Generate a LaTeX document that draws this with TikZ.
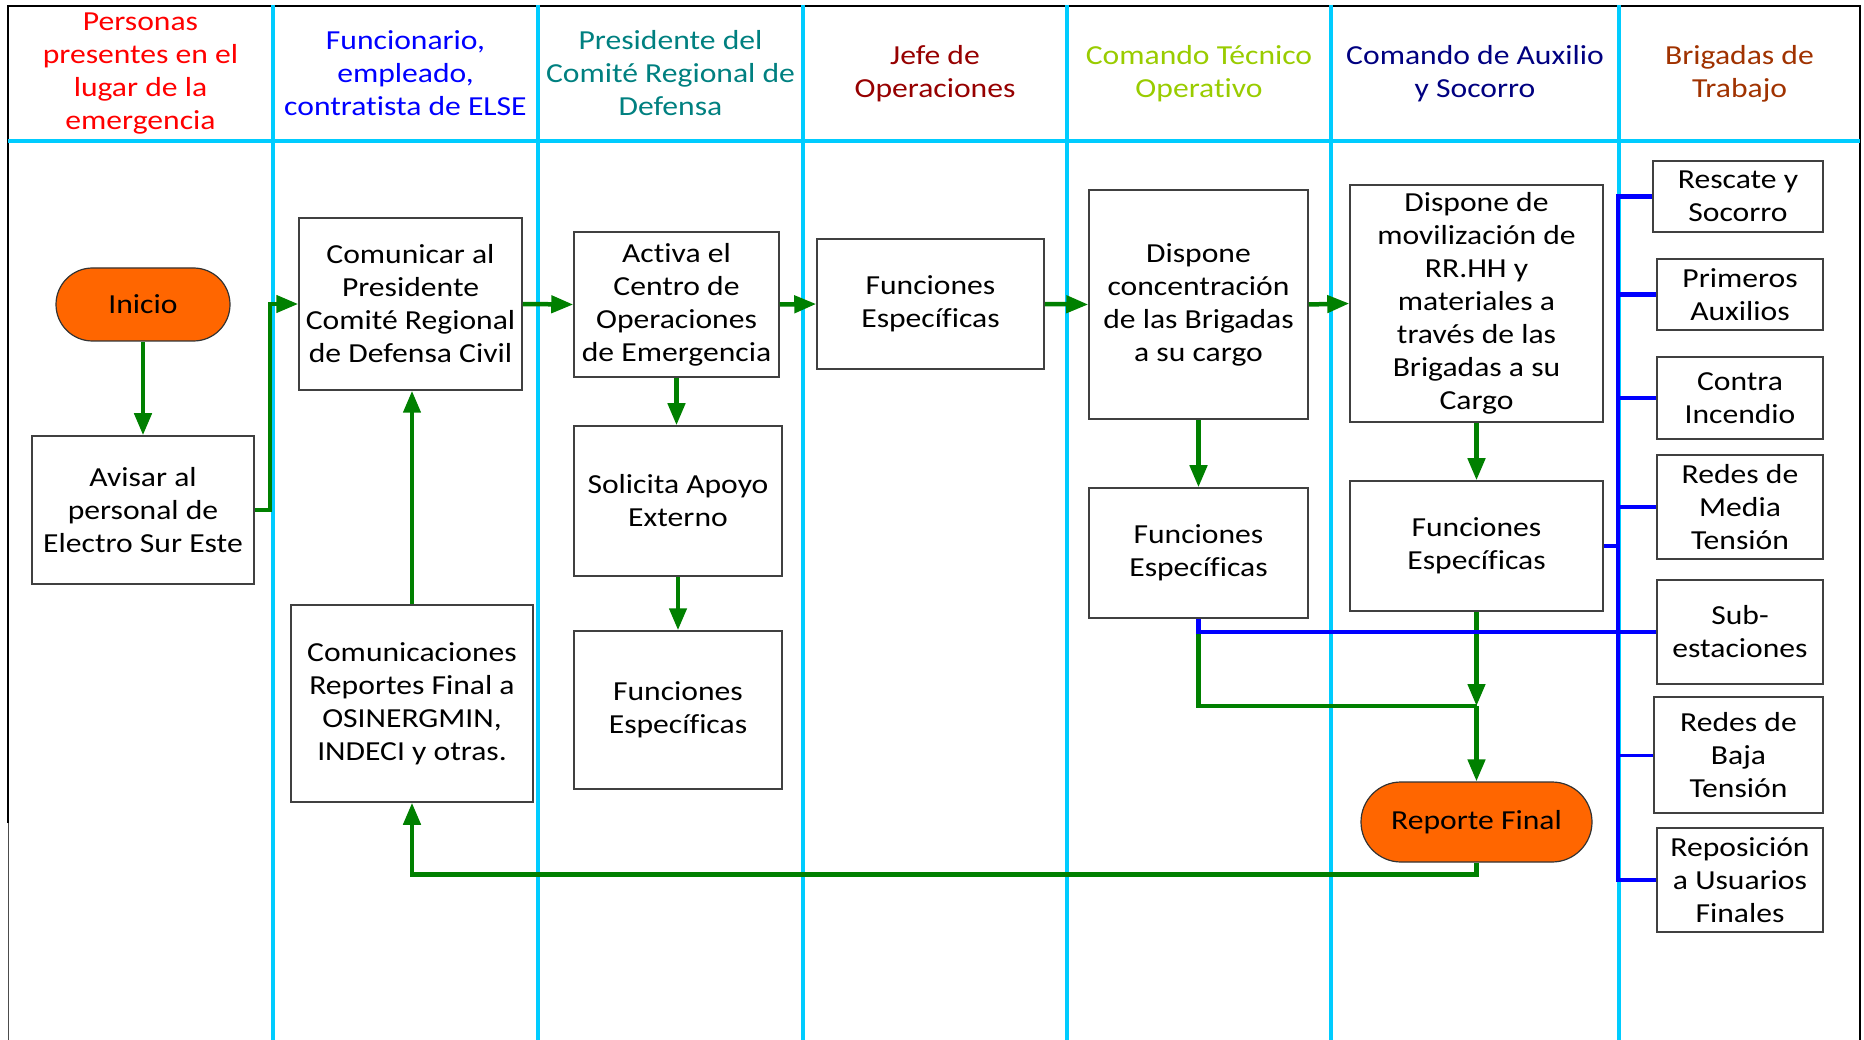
\documentclass[tikz,border=0pt]{standalone}
\usepackage{fontspec}
\setmainfont{Carlito}[FakeStretch=1.15, Ligatures=NoCommon]
\usetikzlibrary{arrows.meta,shapes.misc}

\definecolor{lanecyan}{RGB}{0,204,255}
\definecolor{flowgreen}{RGB}{0,128,0}
\definecolor{linkblue}{RGB}{0,0,255}
\definecolor{termorange}{RGB}{255,102,0}
\definecolor{hdred}{RGB}{255,0,0}
\definecolor{hdblue}{RGB}{0,0,255}
\definecolor{hdteal}{RGB}{0,128,128}
\definecolor{hdmaroon}{RGB}{150,0,0}
\definecolor{hdlime}{RGB}{153,204,0}
\definecolor{hdnavy}{RGB}{0,0,128}
\definecolor{hdbrown}{RGB}{160,50,0}

\tikzset{
  txt/.style={font=\fontsize{27.5}{33}\selectfont, align=center, inner sep=0pt},
  box/.style={txt, draw=black!75, line width=1.5pt, fill=white},
  term/.style={txt, draw=black!80, line width=1.2pt, fill=termorange,
    rounded rectangle},
  lane/.style={draw=lanecyan, line width=3.5pt},
  flow/.style={draw=flowgreen, line width=4.5pt},
  flowarrow/.style={flow, -{Triangle[length=22pt,width=17pt]}},
  link/.style={draw=linkblue, line width=4.5pt},
  head/.style={txt},
}

\begin{document}
\begin{tikzpicture}[x=1pt,y=-1pt]
\useasboundingbox (0,0) rectangle (1864,1040);

% frame and swimlanes
\draw[black, line width=1.5pt] (8,823) -- (8,6) -- (1860,6) -- (1860,1040);
\draw[black!70, line width=1pt] (8,823) -- (8,1040);
\foreach \lx in {273,538,803,1067,1331,1619}
  \draw[lane] (\lx,5) -- (\lx,1040);
\draw[lane] (8,141) -- (1860,141);

% lane headings
\node[head, text=hdred]    (h1) at (140.5,73.5) {Personas\\presentes en el\\lugar de la\\emergencia};
\node[head, text=hdblue]   (h2) at (405.5,73.5) {Funcionario,\\empleado,\\contratista de ELSE};
\node[head, text=hdteal]   (h3) at (670.5,73.5) {Presidente del\\Comité Regional de\\Defensa};
\node[head, text=hdmaroon] (h4) at (935,73.5) {Jefe de\\Operaciones};
\node[head, text=hdlime]   (h5) at (1199,73.5) {Comando Técnico\\Operativo};
\node[head, text=hdnavy]   (h6) at (1475,73.5) {Comando de Auxilio\\y Socorro};
\node[head, text=hdbrown]  (h7) at (1739.5,73.5) {Brigadas de\\Trabajo};

% process steps
\node[term, minimum width=174pt, minimum height=73pt] (inicio) at (143,304.5) {Inicio};
\node[box, minimum width=222pt, minimum height=148pt] (avisar) at (143,510) {Avisar al\\personal de\\Electro Sur Este};
\node[box, minimum width=223pt, minimum height=172pt] (comunicar) at (410.5,304) {Comunicar al\\Presidente\\Comité Regional\\de Defensa Civil};
\node[box, minimum width=242pt, minimum height=197pt] (comunic) at (412,703.5) {Comunicaciones\\Reportes Final a\\OSINERGMIN,\\INDECI y otras.};
\node[box, minimum width=205pt, minimum height=145pt] (activa) at (676.5,304.5) {Activa el\\Centro de\\Operaciones\\de Emergencia};
\node[box, minimum width=208pt, minimum height=150pt] (solicita) at (678,501) {Solicita Apoyo\\Externo};
\node[box, minimum width=208pt, minimum height=158pt] (func3) at (678,710) {Funciones\\Específicas};
\node[box, minimum width=227pt, minimum height=130pt] (func4) at (930.5,304) {Funciones\\Específicas};
\node[box, minimum width=219pt, minimum height=229pt] (dispconc) at (1198.5,304.5) {Dispone\\concentración\\de las Brigadas\\a su cargo};
\node[box, minimum width=219pt, minimum height=130pt] (func5) at (1198.5,553) {Funciones\\Específicas};
\node[box, minimum width=253pt, minimum height=237pt] (dispmov) at (1476.5,303.5) {Dispone de\\movilización de\\RR.HH y\\materiales a\\través de las\\Brigadas a su\\Cargo};
\node[box, minimum width=253pt, minimum height=130pt] (func6) at (1476.5,546) {Funciones\\Específicas};
\node[term, minimum width=231pt, minimum height=80pt] (reporte) at (1476.5,822) {Reporte Final};

% work brigades
\node[box, minimum width=170pt, minimum height=71pt]  (rescate) at (1738,196.5) {Rescate y\\Socorro};
\node[box, minimum width=166pt, minimum height=71pt]  (primeros) at (1740,294.5) {Primeros\\Auxilios};
\node[box, minimum width=166pt, minimum height=82pt]  (contra) at (1740,398) {Contra\\Incendio};
\node[box, minimum width=166pt, minimum height=104pt] (media) at (1740,507) {Redes de\\Media\\Tensión};
\node[box, minimum width=166pt, minimum height=104pt] (subest) at (1740,632) {Sub-\\estaciones};
\node[box, minimum width=169pt, minimum height=116pt] (baja) at (1738.5,755) {Redes de\\Baja\\Tensión};
\node[box, minimum width=166pt, minimum height=104pt] (repos) at (1740,880) {Reposición\\a Usuarios\\Finales};

% green flow
\coordinate (merge) at (1476.5,706);
\coordinate (trunk) at (1618,0);
\draw[flowarrow] (inicio.south) -- (avisar.north);
\draw[flowarrow] (avisar.east) -- ++(15,0) |- (comunicar.west);
\draw[flowarrow] (comunicar.east) -- (activa.west);
\draw[flowarrow] (activa.east) -- (func4.west);
\draw[flowarrow] (func4.east) -- (dispconc.west);
\draw[flowarrow] (dispconc.east) -- (dispmov.west);
\draw[flowarrow] (activa.south) -- (activa.south |- solicita.north);
\draw[flowarrow] (solicita.south) -- (func3.north);
\draw[flowarrow] (dispconc.south) -- (func5.north);
\draw[flowarrow] (dispmov.south) -- (func6.north);
\draw[flowarrow] (func6.south) -- (merge);
\draw[flow] (func5.south) |- (merge);
\draw[flowarrow] (merge) -- (reporte.north);
\draw[flowarrow] (reporte.south) -- ++(0,12) -| (comunic.south);
\draw[flowarrow] (comunic.north) -- (comunic.north |- comunicar.south);

% blue links to the brigades
\draw[link] (rescate.west) -- (rescate.west -| trunk) -- (repos.west -| trunk) -- (repos.west);
\draw[link] (primeros.west) -- (primeros.west -| trunk);
\draw[link] (contra.west) -- (contra.west -| trunk);
\draw[link] (media.west) -- (media.west -| trunk);
\draw[link, line width=3pt] (baja.west) -- (baja.west -| trunk);
\draw[link] (func6.east) -- (func6.east -| trunk);
\draw[link] (subest.west) -- (func5.south |- subest.west) -- (func5.south);
\end{tikzpicture}
\end{document}
